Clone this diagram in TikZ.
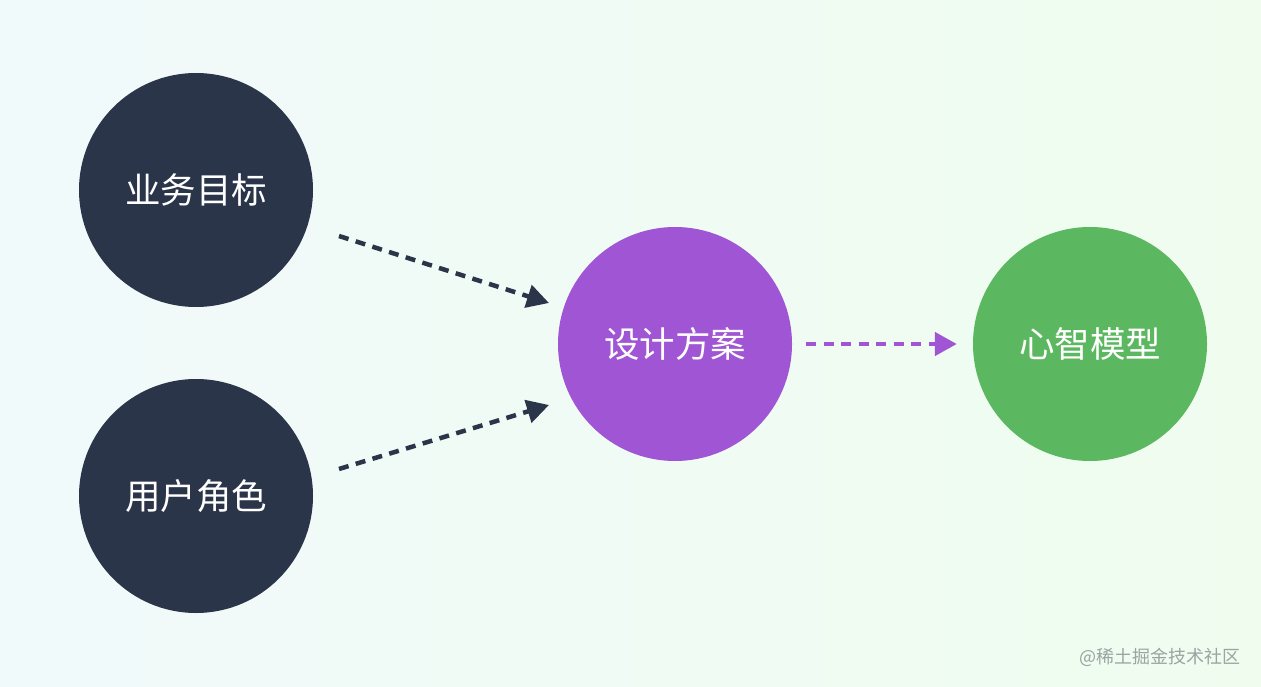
\documentclass[tikz,border=0pt]{standalone}
\usepackage{fontspec}
\newfontfamily\cjk{Noto Sans CJK SC}
\usetikzlibrary{arrows.meta,calc}
\definecolor{navy}{HTML}{2B3549}
\definecolor{purp}{HTML}{A056D4}
\definecolor{grn}{HTML}{5CB860}
\definecolor{bgl}{HTML}{F1FAFB}
\definecolor{bgr}{HTML}{EFFCEE}
\definecolor{wm}{HTML}{9CA3A3}
\begin{document}
\begin{tikzpicture}[x=1pt,y=-1pt,
  circ/.style={circle,minimum size=234pt,inner sep=0pt,text=white,font=\cjk\fontsize{35.5}{42}\selectfont},
  conn/.style={line width=4.5pt,dash pattern=on 10pt off 7.5pt,-{Triangle[length=22pt,width=23pt]}}]
\shade[left color=bgl,right color=bgr] (0,0) rectangle (1261,687);
\useasboundingbox (0,0) rectangle (1261,687);
\node[circ,fill=navy] (biz) at (196,190) {业务目标};
\node[circ,fill=navy] (user) at (196,496) {用户角色};
\node[circ,fill=purp] (design) at (675,344) {设计方案};
\node[circ,fill=grn] (mental) at (1090,344) {心智模型};
\coordinate (s1) at ($(biz.center)+(143,46)$);
\coordinate (e1) at ($(design.center)+(-126,-41)$);
\coordinate (s2) at ($(user.center)+(143,-27)$);
\coordinate (e2) at ($(design.center)+(-126,61)$);
\draw[conn,navy] (s1) -- (e1);
\draw[conn,navy] (s2) -- (e2);
\draw[conn,purp,shorten <=14pt,shorten >=16pt] (design) -- (mental);
\node[anchor=east,text=wm,font=\cjk\fontsize{18}{22}\selectfont,inner sep=0pt] (mark) at (1241,657) {@稀土掘金技术社区};
\end{tikzpicture}
\end{document}
